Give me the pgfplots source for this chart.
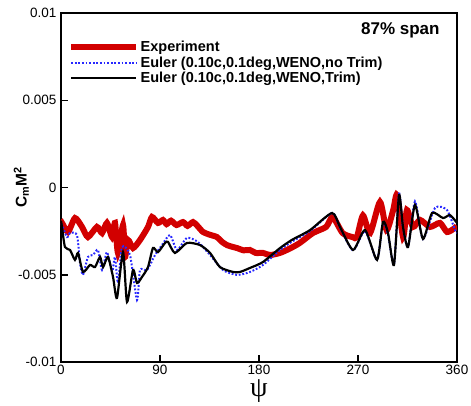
\documentclass[border=0pt]{standalone}
\usepackage{pgfplots}
\pgfplotsset{compat=1.18}
\usepackage{fontspec}
\setmainfont{Liberation Sans}
\newfontfamily\seriffont{Liberation Serif}
\definecolor{expred}{RGB}{210,0,0}
\definecolor{dotblue}{RGB}{40,40,255}
\begin{document}
\begin{tikzpicture}
\useasboundingbox (-61pt,-43pt) rectangle (410pt,362pt);
\begin{axis}[
  scale only axis,
  width=396pt, height=349pt,
  xmin=0, xmax=360, ymin=-0.01, ymax=0.01,
  xtick={0,90,180,270,360},
  ytick={-0.01,-0.005,0,0.005,0.01},
  yticklabels={-0.01,-0.005,0,0.005,0.01},
  scaled y ticks=false,
  tick align=inside, tick pos=left,
  major tick length=7pt,
  axis line style={line width=1.8pt},
  every tick/.style={line width=1.5pt, black},
  /pgf/number format/assume math mode=true,
  tick label style={font=\fontsize{13.5}{15}\selectfont},
  yticklabel style={xshift=-1pt},
  xticklabel style={inner sep=1pt, yshift=-1.5pt},
  xlabel={{\seriffont ψ}},
  xlabel style={at={(axis description cs:0.5,0)}, yshift=-29pt, anchor=center, inner sep=0pt, font=\fontsize{28}{28}\selectfont},
  ylabel={$\mathbf{C}_{\mathbf{m}}\mathbf{M}^{\mathbf{2}}$},
  ylabel style={at={(axis description cs:-0.1,0.5)}, anchor=center, font=\bfseries\fontsize{15.5}{17}\selectfont},
  legend style={draw=none, fill=none, at={(rel axis cs:0.01,0.93)}, anchor=north west,
    font=\bfseries\fontsize{14.5}{16}\selectfont, row sep=0.6pt,
    nodes={inner sep=1.5pt}},
  legend cell align=left,
  legend image code/.code={\draw[#1] (0pt,0pt) -- (65pt,0pt);},
  /tikz/every even column/.append style={column sep=9pt},
]
\addplot[expred, line width=6pt, smooth, tension=0.4] coordinates {
(0,-0.00215) (0.9,-0.00203) (6.4,-0.00255) (12.7,-0.00175) (19.1,-0.00226) (24.5,-0.00284)
(32.7,-0.00226) (37.3,-0.00261) (41.8,-0.00203) (46.4,-0.00284) (49.1,-0.00203) (51.8,-0.00375)
(56.4,-0.00215) (58.2,-0.00398) (60.9,-0.00301) (65.5,-0.00347) (71.8,-0.00301) (79.1,-0.00226)
(82.7,-0.00169) (88.2,-0.00203) (92.7,-0.00186) (96,-0.0021) (100,-0.0019) (105,-0.00215)
(110.9,-0.00198) (115,-0.0022) (120,-0.00198) (124,-0.0022) (129.1,-0.00255) (135,-0.0027)
(141.8,-0.00284) (146,-0.0031) (150.9,-0.0033) (156.4,-0.00341) (160,-0.00347) (166,-0.0036)
(171.8,-0.00358) (177,-0.00375) (183.6,-0.00375) (190,-0.00387) (199,-0.00375) (208,-0.0035)
(217,-0.00318) (229,-0.00261) (241,-0.00226) (247,-0.00169) (256,-0.00261) (265,-0.00284)
(269,-0.00284) (274.5,-0.0016) (281,-0.00261) (290,-0.00083) (296,-0.00244) (302,-0.00129)
(305.5,-0.00043) (311,-0.00284) (314.5,-0.00129) (320,-0.00226) (326.4,-0.00186) (335.5,-0.00226)
(344.5,-0.00203) (351,-0.00255) (358,-0.00232) (360,-0.0022)
};
\addlegendentry{Experiment}
\addplot[dotblue, line width=2pt, dash pattern=on 1.8pt off 1.8pt, smooth, tension=0.4] coordinates {
(0,-0.0021) (0.9,-0.00215) (5.5,-0.00284) (8.2,-0.00261) (14.5,-0.00272) (17.3,-0.00433)
(20,-0.00501) (24.5,-0.00398) (29.1,-0.00387) (33.6,-0.00358) (37.3,-0.00473) (41.8,-0.0037)
(46.4,-0.00484) (49.1,-0.00398) (51.8,-0.00547) (55.5,-0.00341) (62.7,-0.00387) (69.1,-0.00645)
(71.8,-0.00473) (78.2,-0.00473) (85.5,-0.00387) (91.8,-0.0033) (99.1,-0.00272) (105.5,-0.00358)
(114.5,-0.00289) (124.5,-0.00312) (135.5,-0.00387) (147.3,-0.00473) (160,-0.00501) (171.8,-0.00484)
(183.6,-0.00444) (199.1,-0.00358) (210,-0.0031) (226.4,-0.0025) (246.4,-0.00146) (253.6,-0.0023)
(265.5,-0.0036) (276.4,-0.0025) (287.3,-0.00415) (292.7,-0.002) (297.3,-0.0027) (302.7,-0.0044)
(307.3,-0.00035) (310.9,-0.0023) (315.5,-0.0034) (321.8,-0.0008) (329.1,-0.00295) (340,-0.00117)
(350.9,-0.00129) (358.2,-0.00244) (360,-0.0026)
};
\addlegendentry{Euler (0.10c,0.1deg,WENO,no Trim)}
\addplot[black, line width=2.2pt, smooth, tension=0.4] coordinates {
(0,-0.0019) (0.9,-0.00226) (3.6,-0.00341) (8.2,-0.00358) (12.7,-0.00415) (15.5,-0.00375)
(20,-0.00484) (26.4,-0.00444) (30.9,-0.00456) (35.5,-0.00398) (38.2,-0.00456) (42.7,-0.00398)
(47.3,-0.00513) (50.9,-0.00633) (56.4,-0.0037) (60,-0.00656) (65.5,-0.00473) (69.1,-0.00547)
(73.6,-0.00513) (79.1,-0.00456) (83.6,-0.00347) (88.2,-0.0037) (94.5,-0.00318) (97.3,-0.00312)
(103.6,-0.00375) (114.5,-0.00318) (126.4,-0.0033) (135.5,-0.00375) (144.5,-0.00456) (156.4,-0.00484)
(162.7,-0.00484) (171.8,-0.00461) (183.6,-0.00427) (199.1,-0.00347) (210,-0.0030) (226.4,-0.00244)
(246.4,-0.00146) (253.6,-0.00226) (265.5,-0.00358) (276.4,-0.00244) (287.3,-0.00415) (292.7,-0.00198)
(297.3,-0.00261) (302.7,-0.00444) (307.3,-0.00043) (310.9,-0.00226) (315.5,-0.00341) (321.8,-0.001)
(329.1,-0.00295) (337.3,-0.00146) (347.3,-0.00175) (353.6,-0.00158) (360,-0.00203)
};
\addlegendentry{Euler (0.10c,0.1deg,WENO,Trim)}
\node[anchor=east, font=\bfseries\fontsize{17}{19}\selectfont] at (rel axis cs:0.965,0.95) {87\% span};
\end{axis}
\end{tikzpicture}
\end{document}
